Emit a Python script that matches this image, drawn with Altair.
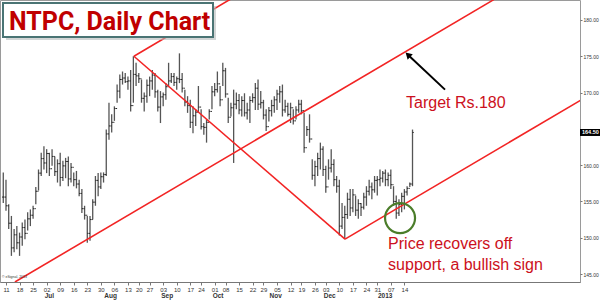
import altair as alt
import pandas as pd

# ---------------- data ----------------
first_bar = -1  # bar index of the first bar (0 = Mon 11 Jun 2012)

highs = [159.0, 158.0, 154.6, 153.0, 151.2, 151.6, 150.7, 152.1, 152.5, 153.5,
         153.9, 154.4, 157.0, 159.4, 161.7, 162.6, 162.2, 161.7, 162.2, 161.2,
         160.8, 161.7, 160.6, 161.0, 161.2, 160.3, 159.0, 159.2, 158.0, 156.7,
         154.4, 153.0, 153.0, 155.3, 158.5, 158.9, 159.0, 159.0, 164.9, 168.6,
         167.0, 168.1, 171.1, 172.5, 172.9, 172.7, 172.2, 173.1, 175.0, 174.1,
         172.7, 171.8, 170.0, 171.8, 172.2, 173.1, 172.7, 170.4, 170.2, 170.0,
         171.3, 174.1, 172.7, 172.7, 172.2, 175.4, 172.7, 170.4, 169.5, 169.0,
         168.1, 167.7, 170.9, 167.7, 165.8, 166.3, 167.7, 170.9, 171.3, 172.9,
         170.9, 174.1, 173.4, 169.3, 168.6, 170.4, 170.0, 169.8, 169.5, 169.9,
         168.6, 169.5, 169.9, 171.3, 171.8, 170.2, 169.0, 167.7, 168.0, 169.0,
         169.5, 170.4, 170.9, 171.1, 169.0, 168.6, 168.6, 167.7, 168.1, 169.0,
         169.0, 167.2, 165.4, 167.0, 160.8, 160.6, 161.7, 163.1, 162.6, 159.9,
         160.8, 162.2, 160.8, 158.5, 158.0, 154.8, 154.4, 156.2, 156.7, 156.7,
         155.8, 155.3, 154.8, 156.2, 157.1, 158.0, 157.6, 158.5, 158.5, 159.4,
         159.2, 159.4, 159.0, 159.4, 157.1, 155.8, 155.3, 156.2, 156.7, 157.1,
         157.6, 164.9]

lows = [154.8, 153.7, 151.2, 147.5, 148.0, 148.4, 147.5, 148.9, 149.8, 151.0,
        151.6, 152.6, 154.6, 156.5, 158.5, 159.4, 158.9, 158.5, 159.9, 158.5,
        157.6, 157.1, 157.8, 158.2, 157.1, 157.6, 157.1, 156.8, 155.7, 153.4,
        152.5, 149.3, 149.6, 152.5, 154.4, 155.7, 156.7, 157.6, 158.5, 163.5,
        164.5, 166.1, 168.6, 169.2, 171.1, 171.3, 170.4, 167.4, 168.6, 170.9,
        171.3, 168.6, 167.4, 168.6, 169.5, 170.4, 169.3, 167.4, 165.8, 168.1,
        169.0, 170.9, 171.3, 170.9, 170.4, 171.3, 170.0, 168.1, 167.2, 165.1,
        164.4, 165.4, 167.2, 164.9, 164.2, 163.1, 166.3, 167.7, 169.5, 170.0,
        168.1, 170.9, 169.3, 165.8, 166.7, 160.3, 167.7, 167.0, 166.7, 166.7,
        166.3, 165.8, 168.6, 167.6, 167.6, 167.8, 166.3, 164.7, 166.0, 166.7,
        167.2, 167.6, 168.6, 166.7, 167.2, 166.7, 165.8, 165.6, 166.3, 167.2,
        167.0, 161.7, 164.0, 163.1, 158.0, 157.1, 158.5, 159.4, 158.5, 156.2,
        158.0, 159.0, 157.1, 156.2, 150.3, 151.2, 149.8, 152.6, 153.0, 153.5,
        153.0, 152.6, 153.0, 153.9, 154.4, 155.8, 155.3, 156.2, 155.8, 157.1,
        157.6, 157.1, 157.1, 156.7, 154.4, 152.6, 153.0, 153.5, 153.9, 155.8,
        157.0, 157.1]

closes = [155.6, 154.4, 152.0, 148.6, 150.4, 149.3, 150.1, 151.4, 150.6, 152.6,
          153.1, 154.0, 156.4, 158.9, 160.9, 160.3, 161.6, 159.5, 161.2, 159.1,
          160.2, 158.3, 159.9, 160.5, 158.1, 159.7, 158.0, 157.4, 156.1, 154.0,
          153.1, 150.6, 152.5, 154.9, 157.9, 157.0, 158.4, 158.7, 164.3, 165.4,
          165.9, 167.8, 170.2, 171.8, 172.0, 171.5, 171.6, 168.2, 172.5, 172.3,
          171.9, 169.2, 169.5, 171.0, 171.6, 172.4, 170.1, 168.0, 169.4, 169.7,
          170.8, 171.6, 172.2, 171.4, 171.9, 171.8, 170.6, 168.7, 168.2, 165.9,
          166.8, 167.3, 168.0, 165.3, 165.2, 165.9, 167.4, 170.1, 170.4, 171.2,
          169.0, 173.0, 169.8, 166.6, 167.9, 168.4, 168.9, 167.6, 168.9, 167.2,
          167.6, 168.9, 169.3, 170.6, 168.4, 168.6, 166.9, 165.3, 167.5, 168.2,
          169.0, 169.8, 170.1, 167.6, 168.1, 167.0, 167.9, 166.1, 167.6, 168.4,
          167.5, 162.4, 164.9, 163.6, 158.6, 159.8, 160.9, 162.2, 159.4, 157.0,
          159.6, 160.1, 158.0, 157.1, 151.6, 152.8, 153.2, 155.3, 154.1, 155.9,
          153.8, 154.7, 154.2, 155.6, 156.4, 157.0, 156.6, 157.9, 158.0, 158.2,
          158.9, 158.0, 158.6, 157.3, 155.0, 153.4, 154.6, 155.7, 156.3, 156.8,
          157.4, 164.5]

# weekly x-axis ticks (bar index of first session of each week) and their labels
week_pos = [0, 5, 10, 15, 20, 25, 30, 35, 40, 45, 49, 53, 58, 63, 68, 72,
            77, 81, 86, 91, 95, 100, 105, 109, 114, 118, 123, 128, 133, 137, 142, 147]
week_labels = ["11", "18", "25", "02", "09", "16", "23", "30", "06", "13", "20", "27",
               "03", "10", "17", "24", "01", "08", "15", "22", "29", "05", "12", "19",
               "26", "03", "10", "17", "24", "31", "07", "14"]
month_pos = [15, 37, 58, 77, 98, 118, 138]
month_labels = ["Jul", "Aug", "Sep", "Oct", "Nov", "Dec", "2013"]

# 165.00 sits behind the last-price box in the reference, so it is not labelled
y_ticks = [145, 150, 155, 160, 170, 175, 180]
last_price = 164.5

# trend / channel lines: start (bar, price) -> end (bar, price)
line_x1 = [3.3, 47.2, 47.2, 125.1]
line_y1 = [143.9, 175.0, 175.0, 149.8]
line_x2 = [180.0, 125.1, 83.0, 212.5]
line_y2 = [182.8, 149.8, 182.9, 169.05]

# annotations (bar, price)
arrow_tail = (162.0, 170.4)
arrow_head = (148.3, 175.2)
circle_at = (145.4, 152.7)
target_text = "Target Rs.180"
target_at = (147.6, 167.9)
note_lines = ["Price recovers off", "support, a bullish sign"]
note_x = 141.0
note_y = [148.4, 145.6]
title_text = "NTPC, Daily Chart"

# ---------------- tables ----------------
n = len(highs)
bars = pd.DataFrame({
    "bar": list(range(first_bar, first_bar + n)),
    "high": highs,
    "low": lows,
    "close": closes,
})
bars["open"] = [closes[0]] + closes[:-1]
bars["bar_l"] = bars["bar"] - 0.45
bars["bar_r"] = bars["bar"] + 0.45

lines = pd.DataFrame({"x1": line_x1, "y1": line_y1, "x2": line_x2, "y2": line_y2})

XDOM = [-2.21, 211.8]
YDOM = [143.9, 182.75]
xs = alt.Scale(domain=XDOM, nice=False, zero=False)
ys = alt.Scale(domain=YDOM, nice=False, zero=False)

label_expr = "".join(
    f"datum.value == {p} ? '{l}' : " for p, l in zip(week_pos, week_labels)
) + "''"

x_axis = alt.Axis(values=week_pos, labelExpr=label_expr, labelFontSize=6,
                  labelColor="#333", tickColor="#777", domainColor="#777",
                  tickSize=3, labelPadding=1, grid=False, labelFont="Liberation Sans",
                  title=None, labelOverlap=False)
y_axis = alt.Axis(orient="right", values=y_ticks, format=".2f", labelFontSize=5,
                  labelColor="#333", tickColor="#777", tickSize=2, domain=False,
                  labelPadding=1, grid=False, labelFont="Liberation Sans", title=None,
                  labelOverlap=False)


def X(field):
    return alt.X(field, scale=xs, axis=x_axis, title=None)


def Y(field):
    return alt.Y(field, scale=ys, axis=y_axis, title=None)


base = alt.Chart(bars)

bar_rules = base.mark_rule(color="#555555", strokeWidth=1.3).encode(
    x=X("bar:Q"), y=Y("high:Q"), y2="low:Q",
)
open_ticks = base.mark_rule(color="#222", strokeWidth=1).encode(
    x=X("bar_l:Q"), x2="bar:Q", y=Y("open:Q"),
)
close_ticks = base.mark_rule(color="#222", strokeWidth=1).encode(
    x=X("bar:Q"), x2="bar_r:Q", y=Y("close:Q"),
)

trend = alt.Chart(lines).mark_rule(color="#f22424", strokeWidth=1.6, clip=True).encode(
    x=X("x1:Q"), x2="x2:Q", y=Y("y1:Q"), y2="y2:Q",
)

arrow_df = pd.DataFrame({"x1": [arrow_tail[0]], "y1": [arrow_tail[1]],
                         "x2": [arrow_head[0]], "y2": [arrow_head[1]]})
arrow_line = alt.Chart(arrow_df).mark_rule(color="black", strokeWidth=2).encode(
    x=X("x1:Q"), x2="x2:Q", y=Y("y1:Q"), y2="y2:Q",
)
arrow_tip = alt.Chart(arrow_df).mark_point(shape="triangle-up", filled=True, size=55,
                                           angle=314, color="black", opacity=1).encode(
    x=X("x2:Q"), y=Y("y2:Q"),
)

circle = alt.Chart(pd.DataFrame({"x": [circle_at[0]], "y": [circle_at[1]]})).mark_point(
    shape="circle", size=900, filled=False, stroke="#4b7d2a", strokeWidth=2.2, opacity=1
).encode(x=X("x:Q"), y=Y("y:Q"))

target = alt.Chart(pd.DataFrame({"x": [target_at[0]], "y": [target_at[1]], "t": [target_text]})).mark_text(
    align="left", baseline="alphabetic", fontSize=16, color="#cc1020", font="Liberation Sans"
).encode(x=X("x:Q"), y=Y("y:Q"), text="t:N")

note = alt.Chart(pd.DataFrame({"x": [note_x] * 2, "y": note_y, "t": note_lines})).mark_text(
    align="left", baseline="alphabetic", fontSize=16, color="#cc1020", font="Liberation Sans"
).encode(x=X("x:Q"), y=Y("y:Q"), text="t:N")

months = alt.Chart(pd.DataFrame({"x": month_pos, "t": month_labels})).mark_text(
    align="left", baseline="alphabetic", fontSize=6.5, fontWeight="bold", color="#333",
    dx=-2, font="Liberation Sans"
).encode(x=X("x:Q"), y=alt.value(298), text="t:N")

# last-price marker on the right axis
lp = pd.DataFrame({"p": [last_price], "t": [f"{last_price:.2f}"]})
lp_box = alt.Chart(lp).mark_rect(color="black", height=7).encode(
    x=alt.value(580), x2=alt.value(600), y=Y("p:Q")
)
lp_text = alt.Chart(lp).mark_text(align="left", baseline="middle", fontSize=5.5,
                                  color="white", fontWeight="bold", font="Liberation Sans").encode(
    x=alt.value(582), y=Y("p:Q"), text="t:N"
)

# title box
tb = pd.DataFrame({"t": [title_text]})
title_shadow = alt.Chart(tb).mark_rect(color="#b5baba", opacity=0.6).encode(
    x=alt.value(6), x2=alt.value(216), y=alt.value(6), y2=alt.value(40))
title_box = alt.Chart(tb).mark_rect(fill="white", stroke="#4a7474", strokeWidth=2).encode(
    x=alt.value(3), x2=alt.value(213), y=alt.value(3), y2=alt.value(37))
title = alt.Chart(tb).mark_text(
    align="left", baseline="alphabetic", fontSize=25, fontWeight="bold", color="#c00000",
    font="Roboto"
).encode(x=alt.value(9), y=alt.value(30), text="t:N")

copyright_txt = alt.Chart(pd.DataFrame({"t": ["© eSignal, 2013"]})).mark_text(
    align="left", baseline="alphabetic", fontSize=3.5, color="#333", font="Liberation Sans"
).encode(x=alt.value(2), y=alt.value(278), text="t:N")

chart = alt.layer(
    bar_rules, open_ticks, close_ticks, trend, arrow_line, arrow_tip, circle,
    target, note, months, lp_box, lp_text, copyright_txt,
    title_shadow, title_box, title,
).properties(
    width=580, height=282,
    autosize=alt.AutoSizeParams(type="none"),
    padding={"left": 0, "top": 0, "right": 20, "bottom": 18},
    background="white",
).configure_view(stroke="#9a9a9a", strokeWidth=1)

chart.save("out.html", embed_options={"renderer": "svg", "actions": False})
